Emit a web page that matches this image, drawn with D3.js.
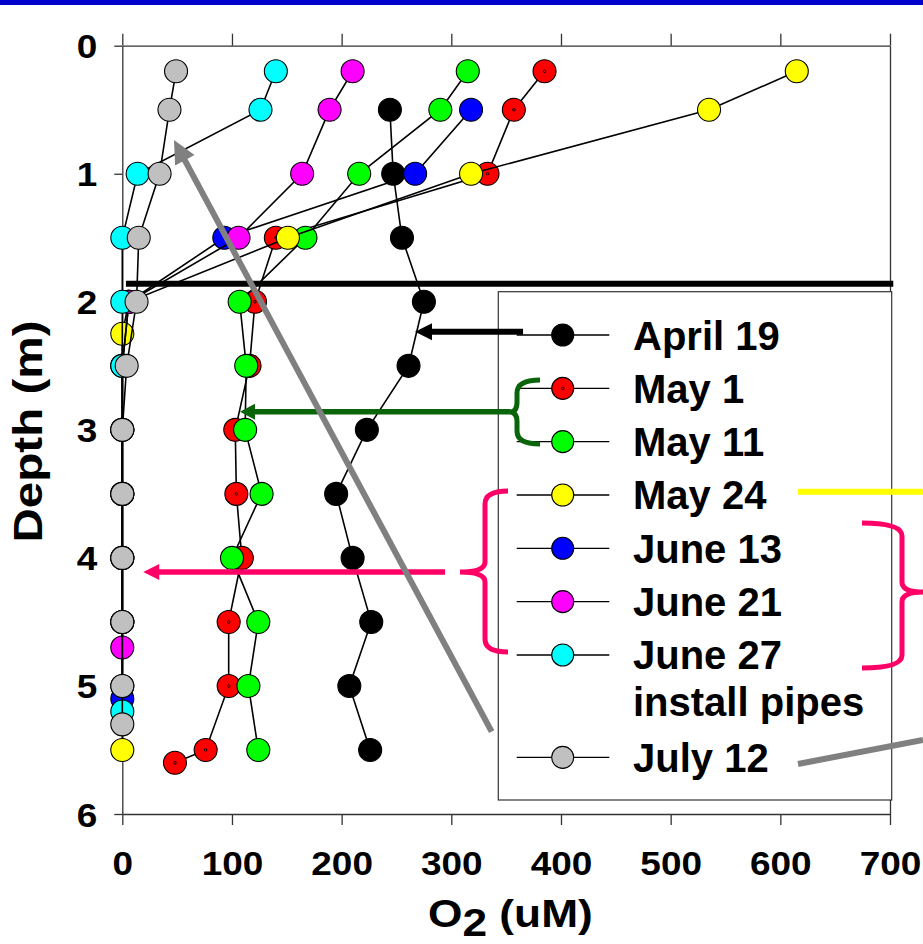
<!DOCTYPE html>
<html>
<head>
<meta charset="utf-8">
<script src="https://cdn.jsdelivr.net/npm/d3@7"></script>
<style>
  body { margin: 0; background: #fff; }
  svg { display: block; font-family: "Liberation Sans", Arial, sans-serif; font-weight: bold; }
</style>
</head>
<body>
<svg id="chart" width="923" height="944"></svg>
<script>
// Dissolved oxygen profiles (uM) by depth (m), one series per sampling date
const seriesNames  = ["April 19", "May 1", "May 11", "May 24", "June 13", "June 21", "June 27", "July 12"];
const seriesColors = ["#000000", "#ff0000", "#00ff00", "#ffff00", "#0000ff", "#ff00ff", "#00ffff", "#c0c0c0"];

const apr19Depth = [0.5, 1, 1.5, 2, 2.5, 3, 3.5, 4, 4.5, 5, 5.5];
const apr19O2    = [244, 247, 255, 275, 261, 223, 195, 210, 227, 207, 226];

const may1Depth  = [0.2, 0.5, 1, 1.5, 2, 2.5, 3, 3.5, 4, 4.5, 5, 5.5, 5.6];
const may1O2     = [385, 357, 333, 140, 121, 116, 103, 104, 109, 97, 97, 76, 48];

const may11Depth = [0.2, 0.5, 1, 1.5, 2, 2.5, 3, 3.5, 4, 4.5, 5, 5.5];
const may11O2    = [315, 290, 216, 167, 107, 113, 112, 127, 100, 124, 115, 124];

const may24Depth = [0.2, 0.5, 1, 1.5, 2, 2.25, 5.5];
const may24O2    = [615, 535, 318, 151, 6, 0, 0];

const jun13Depth = [0.5, 1, 1.5, 2, 2.5, 3, 3.5, 4, 4.5, 5.1];
const jun13O2    = [318, 267, 93, 6, 0, 0, 0, 0, 0, 0];

const jun21Depth = [0.2, 0.5, 1, 1.5, 2, 2.5, 3, 3.5, 4, 4.5, 4.7];
const jun21O2    = [210, 189, 164, 106, 6, 0, 0, 0, 0, 0, 0];

const jun27Depth = [0.2, 0.5, 1, 1.5, 2, 2.5, 3, 3.5, 4, 4.5, 5, 5.2];
const jun27O2    = [140, 126, 14, 0, 0, 0, 0, 0, 0, 0, 0, 0];

const jul12Depth = [0.2, 0.5, 1, 1.5, 2, 2.5, 3, 3.5, 4, 4.5, 5, 5.3];
const jul12O2    = [49, 43, 34, 15, 13, 4, 0, 0, 0, 0, 0, 0];

const xTicks = [0, 100, 200, 300, 400, 500, 600, 700];
const yTicks = [0, 1, 2, 3, 4, 5, 6];

const depthLists = [apr19Depth, may1Depth, may11Depth, may24Depth, jun13Depth, jun21Depth, jun27Depth, jul12Depth];
const o2Lists    = [apr19O2, may1O2, may11O2, may24O2, jun13O2, jun21O2, jun27O2, jul12O2];

const series = seriesNames.map((name, i) => ({
  name,
  color: seriesColors[i],
  dotted: name === "May 1",
  points: depthLists[i].map((d, j) => ({ depth: d, o2: o2Lists[i][j] }))
}));

const svg = d3.select("#chart");
const W = 923;

// Scales: O2 along the top/bottom, depth increasing downward
const x = d3.scaleLinear().domain([0, 700]).range([122.3, 890]);
const y = d3.scaleLinear().domain([0, 6]).range([45.7, 814]);

// Blue banner along the top edge
svg.append("rect").attr("x", 0).attr("y", 0).attr("width", W).attr("height", 5).attr("fill", "#0000cc");

// Axes
const axisColor = "#333";
const styleAxis = g => {
  g.selectAll("path.domain, line").attr("stroke", axisColor).attr("stroke-width", 1.3);
  g.selectAll("text").attr("fill", "#000").attr("font-size", 33).attr("font-weight", "bold")
    .attr("font-family", "'Liberation Sans', Arial, sans-serif");
};

svg.append("g").attr("transform", `translate(0,${y(0)})`)
  .call(d3.axisTop(x).tickValues(xTicks).tickSize(12).tickSizeOuter(0).tickFormat(""))
  .call(styleAxis);

svg.append("g").attr("transform", `translate(0,${y(6)})`)
  .call(d3.axisBottom(x).tickValues(xTicks).tickSize(11).tickSizeOuter(0).tickFormat(d3.format("d")))
  .call(styleAxis)
  .call(g => g.selectAll("text").attr("y", 0).attr("dy", 0)
    .attr("transform", "translate(0,61) scale(1.12,1)"));

svg.append("g").attr("transform", `translate(${x(0)},0)`)
  .call(d3.axisLeft(y).tickValues(yTicks).tickSize(8).tickSizeOuter(0).tickFormat(d3.format("d")))
  .call(styleAxis)
  .call(g => g.selectAll("text").attr("x", 0).attr("dy", 0)
    .attr("transform", "translate(-25,12) scale(1.12,1)"));

svg.append("g").attr("transform", `translate(${x(700)},0)`)
  .call(d3.axisRight(y).tickValues([]).tickSizeOuter(0))
  .call(styleAxis);

// Axis titles
const xTitle = svg.append("text")
  .attr("transform", "translate(428,927) scale(1.165,1)")
  .attr("font-size", 38).attr("fill", "#000").style("white-space", "pre");
xTitle.append("tspan").text("O");
xTitle.append("tspan").attr("dy", 9).text("2");
xTitle.append("tspan").attr("dy", -9).text(" (uM)");

svg.append("text")
  .attr("transform", "translate(42,431.5) rotate(-90) scale(1.19,1)")
  .attr("text-anchor", "middle").attr("font-size", 40).attr("fill", "#000")
  .text("Depth (m)");

// Profiles: line then symbols, one date at a time
const line = d3.line().x(d => x(d.o2)).y(d => y(d.depth));
const R = 11.5;
const plot = svg.append("g");
series.forEach(s => {
  const g = plot.append("g");
  g.append("path").attr("d", line(s.points)).attr("fill", "none")
    .attr("stroke", "#000").attr("stroke-width", 1.6);
  g.selectAll("circle.pt").data(s.points).join("circle").attr("class", "pt")
    .attr("cx", d => x(d.o2)).attr("cy", d => y(d.depth)).attr("r", R)
    .attr("fill", s.color).attr("stroke", "#000").attr("stroke-width", 1.1);
  if (s.dotted) {
    g.selectAll("circle.dot").data(s.points).join("circle").attr("class", "dot")
      .attr("cx", d => x(d.o2)).attr("cy", d => y(d.depth)).attr("r", 1.3)
      .attr("fill", "none").attr("stroke", "#000").attr("stroke-width", 0.9);
  }
});

// Thick separator near 1.86 m
svg.append("line")
  .attr("x1", x(3.3)).attr("x2", x(703)).attr("y1", y(1.86)).attr("y2", y(1.86))
  .attr("stroke", "#000").attr("stroke-width", 6);

// Legend
const legend = svg.append("g");
legend.append("rect").attr("x", 498.3).attr("y", 291.7).attr("width", 393.4).attr("height", 508.3)
  .attr("fill", "#fff").attr("stroke", "#333").attr("stroke-width", 1.2);
const rowSlots = [0, 1, 2, 3, 4, 5, 6, 7.92];
const rowY = k => 335 + k * 53.33;
series.forEach((s, i) => {
  const cy = rowY(rowSlots[i]);
  legend.append("line").attr("x1", 516.7).attr("x2", 609.3).attr("y1", cy).attr("y2", cy)
    .attr("stroke", "#000").attr("stroke-width", 1.3);
  legend.append("circle").attr("cx", 562.7).attr("cy", cy).attr("r", 11)
    .attr("fill", s.color).attr("stroke", "#000").attr("stroke-width", 1.1);
  if (s.dotted) {
    legend.append("circle").attr("cx", 562.7).attr("cy", cy).attr("r", 1.3)
      .attr("fill", "none").attr("stroke", "#000").attr("stroke-width", 0.9);
  }
  legend.append("text").attr("x", 633).attr("y", cy + 14.5)
    .attr("font-size", 40).attr("fill", "#000").text(s.name);
});
legend.append("text").attr("x", 633).attr("y", rowY(6) + 61.5)
  .attr("font-size", 40).attr("fill", "#000").text("install pipes");

// Annotations
const ann = svg.append("g");
function arrow(x1, y1, x2, y2, color, w, headLen, headHalf) {
  const dx = x2 - x1, dy = y2 - y1, L = Math.hypot(dx, dy);
  const ux = dx / L, uy = dy / L;
  const bx = x2 - ux * headLen, by = y2 - uy * headLen;
  ann.append("line").attr("x1", x1).attr("y1", y1).attr("x2", bx + ux * 1).attr("y2", by + uy * 1)
    .attr("stroke", color).attr("stroke-width", w);
  ann.append("path")
    .attr("d", `M${x2},${y2}L${bx - uy * headHalf},${by + ux * headHalf}L${bx + uy * headHalf},${by - ux * headHalf}Z`)
    .attr("fill", color);
}
function brace(tipX, cy, spineX, endX, top, bottom, color) {
  const r = 13, r2 = 10;
  const d = `M${endX},${top}Q${spineX},${top} ${spineX},${top + r}` +
            `L${spineX},${cy - r2}Q${spineX},${cy} ${tipX},${cy}` +
            `Q${spineX},${cy} ${spineX},${cy + r2}` +
            `L${spineX},${bottom - r}Q${spineX},${bottom} ${endX},${bottom}`;
  ann.append("path").attr("d", d).attr("fill", "none").attr("stroke", color).attr("stroke-width", 5);
}

const pink = "#ff0066", darkGreen = "#0a640a", grey = "#808080";

// April 19 pointer
arrow(x(365.4), y(2.233), x(266.9), y(2.233), "#000", 6, 17, 8.5);
// May 1 / May 11 pointer with brace
brace(510, 412, 517, 540, 380, 444, darkGreen);
arrow(x(353.5), y(2.858), x(107.3), y(2.858), darkGreen, 5.5, 15, 8);
// May 24 – June 27 pointer with brace
brace(460, 572, 485, 508, 491, 652, pink);
arrow(x(294.3), y(4.11), x(19.1), y(4.11), pink, 5.5, 16, 8);
brace(923, 592, 902, 862, 523, 668, pink);
// May 24 marker bar
ann.append("line").attr("x1", 798).attr("x2", W).attr("y1", 491.7).attr("y2", 491.7)
  .attr("stroke", "#ffff00").attr("stroke-width", 6);
// July 12 pointer
arrow(x(336.8), y(5.357), x(47.1), y(0.736), grey, 6, 23, 11);
ann.append("line").attr("x1", 798).attr("y1", 764).attr("x2", W).attr("y2", 740)
  .attr("stroke", grey).attr("stroke-width", 6);
</script>
</body>
</html>
